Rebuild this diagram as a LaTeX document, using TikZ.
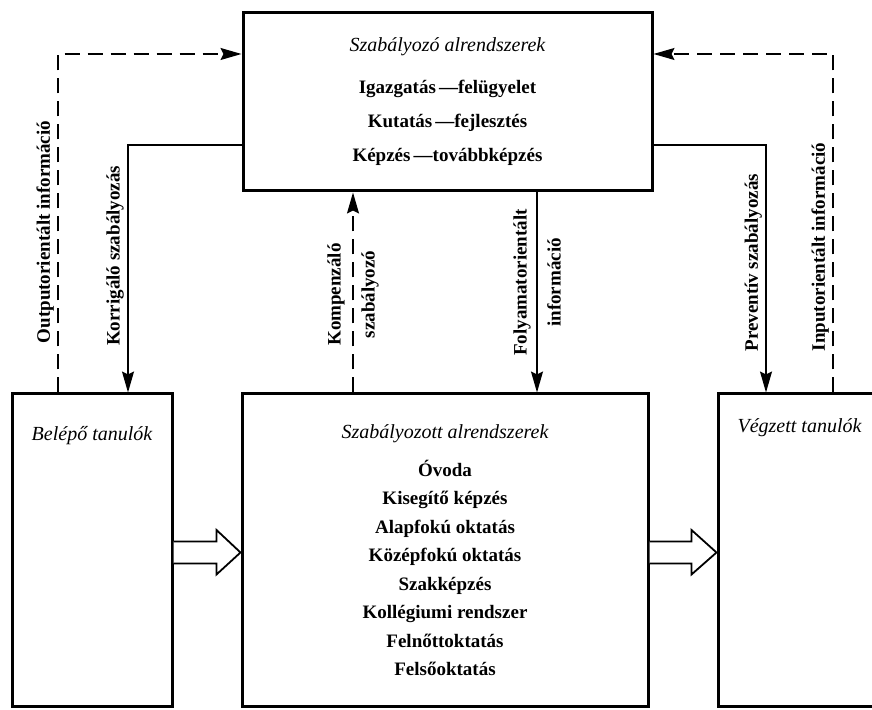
\documentclass[tikz,border=0pt]{standalone}
\usepackage{fontspec}
\setmainfont{Liberation Serif}
\usetikzlibrary{arrows.meta,calc}
\newcommand{\boxttl}[1]{{\fontsize{20}{24}\selectfont\mdseries\itshape #1}}
\tikzset{
  box/.style={draw, line width=3pt, inner sep=0pt},
  conn/.style={line width=1.5pt, -{Stealth[length=21pt,width=12pt,inset=3pt]}},
  dashline/.style={conn, dash pattern=on 15pt off 8pt},
  lbl/.style={font=\fontsize{19}{34}\selectfont\bfseries, rotate=90},
  hollow/.style={line width=1.8pt, fill=white},
}
\begin{document}
\begin{tikzpicture}[x=1pt,y=1pt]
  \useasboundingbox (0,0) rectangle (872,709);
  % boxes
  \node[box, minimum width=409, minimum height=178, align=center,
        font=\fontsize{19}{34}\selectfont\bfseries] (tbox) at (447.5,607)
    {\boxttl{Szabályozó alrendszerek}\\[8pt]
     Igazgatás\,—felügyelet\\
     Kutatás\,—fejlesztés\\
     Képzés\,—továbbképzés};
  \node[box, minimum width=160, minimum height=312] (lbox) at (92,159) {};
  \node[box, minimum width=406, minimum height=312, align=center,
        font=\fontsize{19}{28.5}\selectfont\bfseries] (mbox) at (445,159)
    {\boxttl{Szabályozott alrendszerek}\\[9.5pt]
     Óvoda\\ Kisegítő képzés\\ Alapfokú oktatás\\ Középfokú oktatás\\
     Szakképzés\\ Kollégiumi rendszer\\ Felnőttoktatás\\ Felsőoktatás};
  \node[box, minimum width=157, minimum height=312] (rbox) at (796.5,159) {};
  % titles of the side boxes
  \node[anchor=base] (lttl) at ($(lbox.north)+(0,-48.5)$) {\boxttl{Belépő tanulók}};
  \node[anchor=base] (rttl) at ($(rbox.north)+(3,-40.5)$) {\boxttl{Végzett tanulók}};
  % left side
  \draw[dashline] ($(lbox.north)+(-34,0)$) |- ($(tbox.west)+(0,48)$)
    node[lbl, above, pos=0.237] (outlbl) {Outputorientált információ};
  \draw[conn] ($(tbox.west)+(0,-43)$) -| ($(lbox.north)+(36,0)$)
    node[lbl, above, pos=0.724] (korlbl) {Korrigáló szabályozás};
  % right side
  \draw[conn] ($(tbox.east)+(0,-43)$) -| ($(rbox.north)+(-30.5,0)$)
    node[lbl, above, pos=0.738] (prevlbl) {Preventív szabályozás};
  \draw[dashline] ($(rbox.north)+(36.5,0)$) |- ($(tbox.east)+(0,48)$)
    node[lbl, above, pos=0.215] (inlbl) {Inputorientált információ};
  % middle
  \coordinate (k1) at ($(mbox.north)+(-92,0)$);
  \draw[dashline] (k1) -- (k1 |- tbox.south)
    node[lbl, align=center, pos=0.49] (komplbl) {Kompenzáló\\ szabályozó};
  \coordinate (f1) at ($(tbox.south)+(89.5,0)$);
  \draw[conn] (f1) -- (f1 |- mbox.north)
    node[lbl, align=center, pos=0.45] (follbl) {Folyamatorientált\\ információ};
  % hollow arrows
  \draw[hollow] ($(lbox.east)+(0,8.5)$) -- ($(mbox.west)+(-24,8.5)$)
    -- ($(mbox.west)+(-24,20)$) -- ($(mbox.west)+(0,-2.5)$)
    -- ($(mbox.west)+(-24,-24.5)$) -- ($(mbox.west)+(-24,-13.5)$)
    -- ($(lbox.east)+(0,-13.5)$);
  \draw[hollow] ($(mbox.east)+(0,8.5)$) -- ($(rbox.west)+(-25,8.5)$)
    -- ($(rbox.west)+(-25,20)$) -- ($(rbox.west)+(0,-2.5)$)
    -- ($(rbox.west)+(-25,-24.5)$) -- ($(rbox.west)+(-25,-13.5)$)
    -- ($(mbox.east)+(0,-13.5)$);
\end{tikzpicture}
\end{document}
